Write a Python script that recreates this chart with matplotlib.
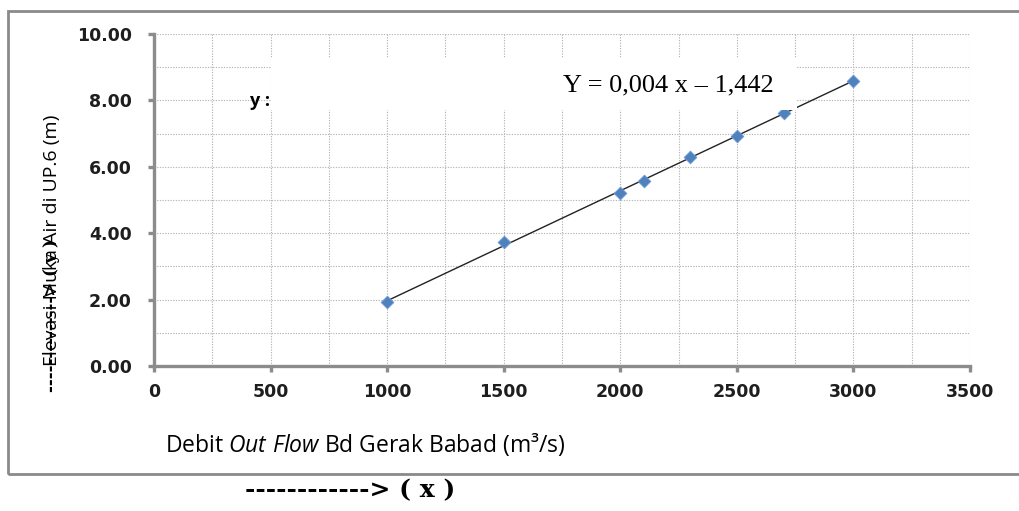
import numpy as np
import matplotlib
matplotlib.use('Agg')
import matplotlib.pyplot as plt
from matplotlib.patches import Rectangle
from matplotlib.ticker import MultipleLocator

# data
debit = [1000, 1500, 2000, 2100, 2300, 2500, 2700, 3000]
elevasi = [1.92, 3.72, 5.22, 5.58, 6.30, 6.93, 7.62, 8.58]

x_ticks = [0, 500, 1000, 1500, 2000, 2500, 3000, 3500]
y_ticks = [0, 2, 4, 6, 8, 10]

plt.rcParams['mathtext.fontset'] = 'custom'
plt.rcParams['mathtext.rm'] = 'Open Sans'
plt.rcParams['mathtext.it'] = 'Open Sans:italic'

AXIS_GRAY = '#8c8c8c'
GRID_GRAY = '#b4b4b4'

fig = plt.figure(figsize=(10.19, 5.11), dpi=100)
ax = fig.add_axes([0.1511, 0.2838, 0.952 - 0.1511, 0.9335 - 0.2838])

# outer chart border (right edge runs off the picture)
fig.patches.append(Rectangle((8 / 1019, 1 - 474 / 511), 2.0, (474 - 11) / 511,
                             transform=fig.transFigure, fill=False,
                             edgecolor='#8a8a8a', linewidth=2))

ax.set_xlim(0, 3500)
ax.set_ylim(0, 10)
ax.set_xticks(x_ticks)
ax.set_yticks(y_ticks)
ax.set_yticklabels(['%.2f' % v for v in y_ticks])
ax.xaxis.set_minor_locator(MultipleLocator(250))
ax.yaxis.set_minor_locator(MultipleLocator(1))

ax.grid(which='both', color=GRID_GRAY, linestyle=(0, (1.1, 1.3)), linewidth=0.8)
ax.set_axisbelow(True)

for s in ['top', 'right']:
    ax.spines[s].set_visible(False)
for s in ['left', 'bottom']:
    ax.spines[s].set_color(AXIS_GRAY)
    ax.spines[s].set_linewidth(2.4)

ax.tick_params(which='major', direction='out', length=4, width=2.4,
               color=AXIS_GRAY, labelsize=12.5)
ax.tick_params(axis='y', pad=12)
ax.tick_params(axis='x', pad=8)
ax.tick_params(which='minor', length=0)
for lab in ax.get_xticklabels() + ax.get_yticklabels():
    lab.set_fontweight('bold')
    lab.set_fontfamily('DejaVu Sans')
    lab.set_color('#1e1e1e')

# linear trendline
k, b = np.polyfit(debit, elevasi, 1)
xs = np.array([min(debit), max(debit)])
ax.plot(xs, k * xs + b, color='#222222', linewidth=1, zorder=3)

ax.scatter(debit, elevasi, marker='D', s=42, color='#4f81bd',
           edgecolor='#6a9bd8', linewidth=0.6, zorder=4)

# white box hiding the old trendline label
fig.patches.append(Rectangle((271 / 1019, 1 - 110 / 511), (797 - 271) / 1019, (110 - 58) / 511,
                             transform=fig.transFigure, facecolor='white',
                             edgecolor='none', zorder=5))
fig.text(250 / 1019, 1 - 101 / 511, 'y :', fontsize=13, fontweight='bold',
         family='Open Sans', va='center', ha='left', zorder=6)
fig.text(563 / 1019, 1 - 85 / 511, 'Y = 0,004 x \u2013 1,442', fontsize=19,
         family='Liberation Serif', va='center', ha='left', zorder=6)

# axis titles
fig.text(165 / 1019, 1 - 444 / 511, 'Debit $\\mathit{Out\\ Flow}$ Bd Gerak Babad (m\u00b3/s)',
         fontsize=16.5, family='Open Sans', va='center', ha='left')
fig.text(52 / 1019, 1 - 240 / 511, 'Elevasi Muka Air di UP.6 (m)', fontsize=14,
         family='Open Sans', rotation=90, va='center', ha='center')
fig.text(52 / 1019, 1 - 392 / 511, '--------------> ( y )', fontsize=12,
         family='DejaVu Serif', fontweight='bold', rotation=90,
         va='bottom', ha='center')
fig.text(245 / 1019, 1 - 490 / 511, '------------> ( x )', fontsize=18,
         family='DejaVu Serif', fontweight='bold', va='center', ha='left')

fig.savefig('out.png', dpi=100)
